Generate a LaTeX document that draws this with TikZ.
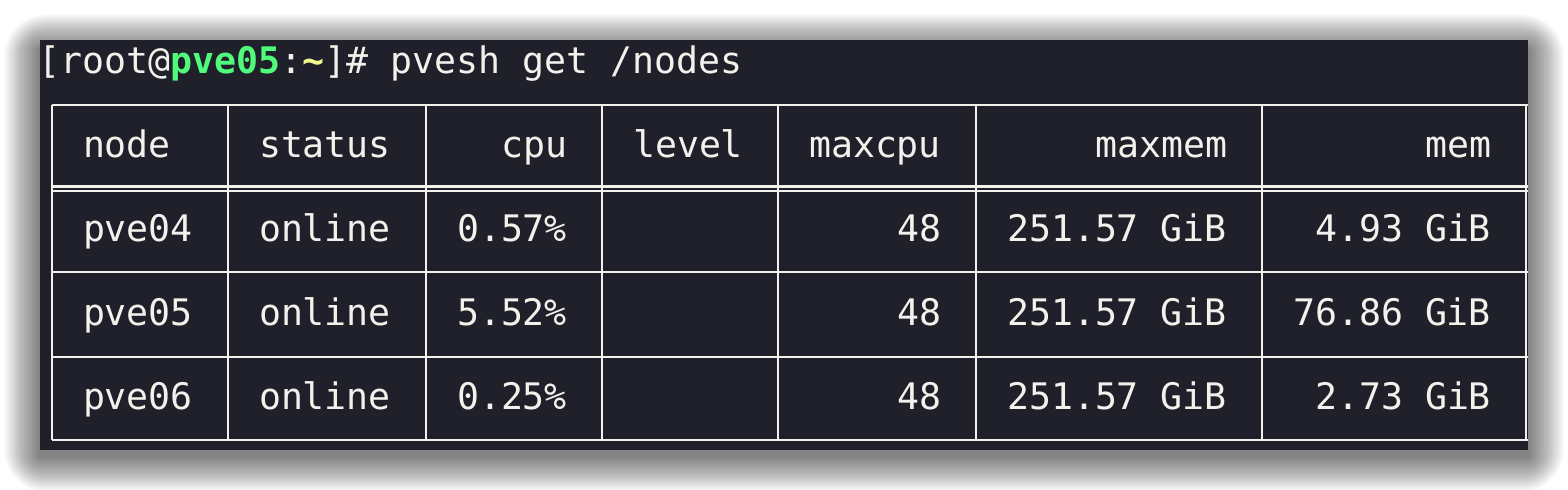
\documentclass[tikz,border=0pt]{standalone}
\usepackage{fontspec}
\setmonofont{DejaVu Sans Mono}
\definecolor{termbg}{HTML}{1F2029}
\definecolor{termfg}{HTML}{F2F2EC}
\definecolor{termgreen}{HTML}{50FA7B}
\definecolor{termyellow}{HTML}{F1FA8C}
\tikzset{
  txt/.style={anchor=base west, inner sep=0pt, outer sep=0pt, text=termfg,
    font=\ttfamily\fontsize{18.27pt}{22pt}\selectfont},
  grid/.style={draw=termfg, line width=1.1pt},
}
\newcommand{\cx}[1]{{39+22*#1}}
\begin{document}
\begin{tikzpicture}[x=0.5pt,y=-0.5pt]
\useasboundingbox (0,0) rectangle (1568,490);
\fill[white] (0,0) rectangle (1568,490);
% shadow
\foreach \i in {1,...,36}{
  \fill[black, fill opacity=0.014, rounded corners={\i*0.6pt}]
    ({40-\i},{50-\i}) rectangle ({1528+\i},{456+\i});
}
% terminal
\fill[termbg] (40,40) rectangle (1528,450);
% prompt
\node[txt] (prompt) at (\cx{0},74) {[root@\textcolor{termgreen}{\bfseries pve05}:\textcolor{termyellow}{\bfseries\char`\~}]\# pvesh get /nodes};
% table lines
\draw[grid] (52,105) -- (1528,105);
\draw[grid] (52,186.5) -- (1528,186.5);
\draw[grid] (52,190.7) -- (1528,190.7);
\draw[grid] (52,272.3) -- (1528,272.3);
\draw[grid] (52,356.8) -- (1528,356.8);
\draw[grid] (52,440) -- (1528,440);
\foreach \c in {0,8,17,25,33,42,55,67}{
  \draw[grid] ({52+22*\c},105) -- ({52+22*\c},440);
}
% header
\node[txt] (h1) at (\cx{2},158) {node};
\node[txt] (h2) at (\cx{10},158) {status};
\node[txt] (h3) at (\cx{21},158) {cpu};
\node[txt] (h4) at (\cx{27},158) {level};
\node[txt] (h5) at (\cx{35},158) {maxcpu};
\node[txt] (h6) at (\cx{48},158) {maxmem};
\node[txt] (h7) at (\cx{63},158) {mem};
% row 1
\node[txt] (a1) at (\cx{2},242) {pve04};
\node[txt] (a2) at (\cx{10},242) {online};
\node[txt] (a3) at (\cx{19},242) {0.57\%};
\node[txt] (a5) at (\cx{39},242) {48};
\node[txt] (a6) at (\cx{44},242) {251.57 GiB};
\node[txt] (a7) at (\cx{58},242) {4.93 GiB};
% row 2
\node[txt] (b1) at (\cx{2},326) {pve05};
\node[txt] (b2) at (\cx{10},326) {online};
\node[txt] (b3) at (\cx{19},326) {5.52\%};
\node[txt] (b5) at (\cx{39},326) {48};
\node[txt] (b6) at (\cx{44},326) {251.57 GiB};
\node[txt] (b7) at (\cx{57},326) {76.86 GiB};
% row 3
\node[txt] (c1) at (\cx{2},410) {pve06};
\node[txt] (c2) at (\cx{10},410) {online};
\node[txt] (c3) at (\cx{19},410) {0.25\%};
\node[txt] (c5) at (\cx{39},410) {48};
\node[txt] (c6) at (\cx{44},410) {251.57 GiB};
\node[txt] (c7) at (\cx{58},410) {2.73 GiB};
\end{tikzpicture}
\end{document}
